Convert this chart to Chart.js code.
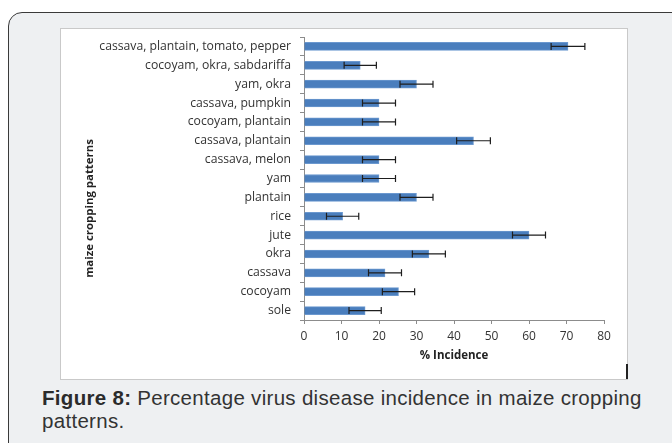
<!DOCTYPE html>
<html>
<head>
<meta charset="utf-8">
<script src="https://cdn.jsdelivr.net/npm/chart.js@4.4.1/dist/chart.umd.min.js"></script>
<style>
  html, body { margin: 0; padding: 0; width: 672px; height: 443px; overflow: hidden; background: #ffffff; }
  #panel {
    position: absolute; left: 8px; top: 12px; width: 700px; height: 445px;
    background: #eef0f2; border: 1.5px solid #3a3a3a; border-radius: 14px; box-sizing: border-box;
  }
  #box {
    position: absolute; left: 60px; top: 28px; width: 568px; height: 352px;
    background: #ffffff; border: 1px solid #c9c9c9; box-sizing: border-box;
  }
  #mark { position: absolute; left: 626px; top: 364px; width: 2px; height: 15px; background: #222; }
  #caption {
    position: absolute; left: 42px; top: 386px; width: 615px;
    font-family: "Liberation Sans", Arial, sans-serif; font-size: 20.5px; letter-spacing: 0.3px;
    line-height: 23px; color: #333;
  }
  #caption b { color: #2b2b2b; }
</style>
</head>
<body>
<div id="panel"></div>
<div id="box"><canvas id="barChart" width="568" height="352"></canvas></div>
<div id="mark"></div>
<div id="caption"><b>Figure 8:</b> Percentage virus disease incidence in maize cropping patterns.</div>
<script>
// datos
const patterns = [
  'cassava, plantain, tomato, pepper',
  'cocoyam, okra, sabdariffa',
  'yam, okra',
  'cassava, pumpkin',
  'cocoyam, plantain',
  'cassava, plantain',
  'cassava, melon',
  'yam',
  'plantain',
  'rice',
  'jute',
  'okra',
  'cassava',
  'cocoyam',
  'sole'
];
const incidence = [70.4, 15, 30, 20, 20, 45.2, 20, 20, 30, 10.3, 60, 33.3, 21.6, 25.2, 16.3];
const errors = [4.5, 4.3, 4.4, 4.4, 4.4, 4.5, 4.4, 4.4, 4.4, 4.3, 4.4, 4.4, 4.4, 4.3, 4.3];
const xTicks = [0, 10, 20, 30, 40, 50, 60, 70, 80];
const yTitle = 'maize cropping patterns';

// barras de error dibujadas con las escalas del grafico
const errorBarsPlugin = {
  id: 'errorBars',
  afterDatasetsDraw(chart) {
    const ctx = chart.ctx;
    const xScale = chart.scales.x;
    const meta = chart.getDatasetMeta(0);
    ctx.save();
    ctx.strokeStyle = '#1e1e1e';
    ctx.lineWidth = 1.2;
    meta.data.forEach((bar, i) => {
      const v = incidence[i];
      const e = errors[i];
      const x1 = xScale.getPixelForValue(v - e);
      const x2 = xScale.getPixelForValue(v + e);
      const y = bar.y;
      ctx.beginPath();
      ctx.moveTo(x1, y); ctx.lineTo(x2, y);
      ctx.moveTo(x1, y - 3.5); ctx.lineTo(x1, y + 3.5);
      ctx.moveTo(x2, y - 3.5); ctx.lineTo(x2, y + 3.5);
      ctx.stroke();
    });
    ctx.restore();
  }
};

// titulo del eje y, algo mas abajo del centro como en la figura
const yTitlePlugin = {
  id: 'yTitle',
  afterDraw(chart) {
    const ctx = chart.ctx;
    const area = chart.chartArea;
    ctx.save();
    ctx.translate(chart.scales.y.left + 7, (area.top + area.bottom) / 2 + 30);
    ctx.rotate(-Math.PI / 2);
    ctx.font = 'bold 11.4px "Open Sans"';
    ctx.fillStyle = '#222';
    ctx.textAlign = 'center';
    ctx.textBaseline = 'middle';
    ctx.fillText(yTitle, 0, 0);
    ctx.restore();
  }
};

const ctx = document.getElementById('barChart');
new Chart(ctx, {
  type: 'bar',
  data: {
    labels: patterns,
    datasets: [{
      data: incidence,
      backgroundColor: '#4a7ebd',
      borderColor: '#6b98cf',
      borderWidth: 1,
      barThickness: 8
    }]
  },
  options: {
    indexAxis: 'y',
    responsive: false,
    animation: false,
    layout: { padding: { left: 22, right: 25, top: 8, bottom: 14 } },
    scales: {
      y: {
        afterFit: (scale) => { scale.width = 221; scale.paddingTop = 0; scale.paddingBottom = 0; },
        grid: { display: true, offset: true, drawOnChartArea: false, drawTicks: true, tickLength: 4, color: '#8c8c8c' },
        border: { display: true, color: '#8c8c8c', width: 1 },
        ticks: { color: '#333', padding: 9, font: { family: 'Open Sans', size: 12.2 } },
        title: { display: false }
      },
      x: {
        min: 0,
        max: 80,
        afterBuildTicks: (scale) => { scale.ticks = xTicks.map(v => ({ value: v })); },
        afterFit: (scale) => { scale.height = 47; },
        grid: { display: true, drawOnChartArea: false, drawTicks: true, tickLength: 4, color: '#8c8c8c' },
        border: { display: true, color: '#8c8c8c', width: 1 },
        ticks: { color: '#333', padding: 5, font: { family: 'Open Sans', size: 12 } },
        title: { display: true, text: '% Incidence', color: '#222', padding: { top: 4 }, font: { family: 'Open Sans', size: 11.5, weight: 'bold' } }
      }
    },
    plugins: {
      legend: { display: false },
      tooltip: { enabled: false }
    }
  },
  plugins: [errorBarsPlugin, yTitlePlugin]
});
</script>
</body>
</html>
